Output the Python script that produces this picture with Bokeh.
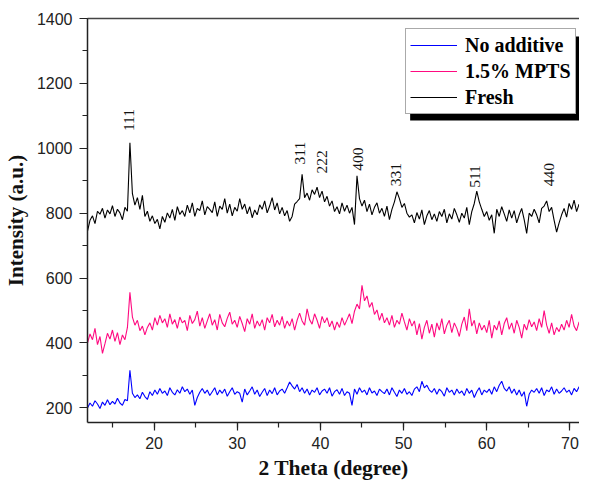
import numpy as np
from bokeh.plotting import figure
from bokeh.models import (Range1d, SingleIntervalTicker, FixedTicker, LinearAxis,
                          Legend, LegendItem, BoxAnnotation, ColumnDataSource)
from bokeh.core.properties import value
from bokeh.embed import file_html
from bokeh.resources import INLINE

# 2-theta sampling grid (degrees), 0.3 deg step from 12.0
two_theta = np.round(12.0 + 0.3 * np.arange(199), 2)

fresh = [
    745, 778, 792, 768, 806, 797, 815, 785, 810, 798,
    823, 790, 812, 801, 780, 818, 806, 1017, 860, 825,
    848, 812, 855, 790, 806, 775, 792, 768, 781, 752,
    790, 772, 801, 785, 812, 778, 820, 796, 808, 790,
    825, 801, 832, 790, 815, 808, 838, 795, 820, 812,
    802, 835, 790, 822, 812, 845, 800, 828, 792, 818,
    806, 845, 812, 828, 798, 820, 786, 810, 795, 826,
    812, 838, 801, 822, 848, 810, 832, 798, 818, 792,
    808, 775, 790, 828, 836, 845, 920, 848, 862, 840,
    872, 858, 880, 848, 868, 835, 852, 822, 838, 805,
    820, 798, 832, 806, 825, 800, 818, 765, 915, 845,
    822, 840, 805, 828, 795, 818, 832, 800, 815, 790,
    822, 780, 812, 835, 866, 845, 818, 830, 800, 788,
    795, 770, 802, 782, 810, 765, 792, 808, 780, 798,
    775, 805, 790, 812, 770, 798, 782, 815, 795, 772,
    800, 785, 818, 765, 805, 830, 868, 835, 812, 790,
    805, 778, 795, 738, 812, 790, 820, 798, 775, 810,
    785, 808, 770, 795, 815, 780, 738, 800, 790, 812,
    795, 770, 815, 822, 838, 805, 818, 778, 742, 770,
    795, 815, 788, 830, 812, 840, 805, 828, 815,
]

mpts = [
    400, 428, 410, 445, 395, 420, 368, 398, 430, 412,
    440, 405, 432, 395, 425, 410, 448, 556, 480, 455,
    470, 438, 452, 425, 448, 462, 440, 478, 455, 485,
    462, 475, 448, 490, 458, 472, 445, 480, 462, 470,
    438, 485, 460, 472, 498, 452, 478, 445, 468, 490,
    455, 472, 440, 488, 462, 450, 476, 495, 458, 470,
    448, 482, 460, 435, 475, 458, 490, 445, 468, 452,
    472, 440, 478, 462, 488, 450, 470, 455, 482, 445,
    468, 452, 475, 440, 470, 492, 468, 455, 505, 472,
    458, 490, 470, 445, 482, 462, 478, 450, 468, 440,
    465, 448, 478, 455, 472, 490, 460, 498, 520, 505,
    578, 530, 545, 510, 525, 488, 502, 470, 492, 462,
    478, 455, 485, 448, 470, 458, 492, 465, 440, 475,
    452, 468, 425, 460, 412, 448, 470, 430, 458, 418,
    462, 440, 475, 428, 455, 470, 432, 462, 445, 420,
    458, 480, 438, 505, 452, 470, 428, 462, 440, 455,
    432, 470, 415, 455, 440, 468, 425, 460, 478, 442,
    462, 430, 470, 448, 415, 458, 440, 472, 450, 465,
    438, 475, 448, 500, 455, 430, 462, 425, 448, 435,
    458, 440, 470, 448, 488, 452, 438, 465, 445,
]

no_additive = [
    200, 215, 205, 222, 212, 198, 218, 208, 225, 210,
    220, 212, 230, 215, 208, 226, 222, 316, 245, 232,
    240, 228, 248, 235, 226, 250, 238, 255, 242, 260,
    245, 252, 238, 262, 248, 240, 256, 245, 265, 250,
    258, 242, 255, 208, 232, 248, 260, 245, 255, 238,
    250, 262, 240, 255, 245, 258, 236, 250, 262, 242,
    250, 245, 218, 258, 240, 252, 265, 242, 255, 235,
    248, 260, 238, 255, 244, 262, 240, 252, 258, 245,
    262, 280, 268, 258, 272, 250, 262, 245, 258, 240,
    255, 248, 262, 240, 252, 258, 245, 262, 236, 250,
    256, 242, 260, 238, 250, 245, 208, 258, 242, 262,
    248, 255, 240, 262, 246, 252, 238, 258, 250, 244,
    258, 240, 262, 248, 235, 255, 245, 260, 242, 250,
    238, 258, 265, 250, 282, 262, 270, 255, 248, 260,
    242, 258, 250, 236, 262, 248, 255, 240, 258, 245,
    252, 238, 260, 245, 255, 232, 250, 262, 240, 255,
    248, 258, 242, 265, 250, 270, 282, 260, 252, 265,
    245, 258, 240, 255, 236, 250, 205, 242, 255, 248,
    260, 245, 262, 238, 255, 250, 265, 242, 258, 245,
    252, 262, 248, 255, 240, 260, 250, 265, 255,
]

series_names = ["No additive", "1.5% MPTS", "Fresh"]
series_colors = ["#0000FF", "#FF0A80", "#000000"]

peak_labels = ["111", "311", "222", "400", "331", "511", "440"]
peak_label_x = [17.0, 37.5, 40.2, 44.5, 49.05, 58.6, 67.5]
peak_label_y = [1087, 985, 958, 967, 919, 913, 919]

p = figure(width=579, height=483, output_backend="svg", toolbar_location=None,
           x_range=Range1d(12, 71.15), y_range=Range1d(155, 1400),
           min_border_left=85, min_border_right=0, min_border_top=18,
           min_border_bottom=61)
p.xgrid.visible = False
p.ygrid.visible = False
p.outline_line_color = None
p.background_fill_color = "white"
p.border_fill_color = "white"

renderers = []
for name, ys, col in zip(series_names, [no_additive, mpts, fresh], series_colors):
    src = ColumnDataSource(dict(x=two_theta[:len(ys)], y=ys))
    r = p.line("x", "y", source=src, line_color=col, line_width=1.1)
    renderers.append(r)

lab_src = ColumnDataSource(dict(x=peak_label_x, y=peak_label_y, t=peak_labels))
p.text("x", "y", text="t", source=lab_src, angle=np.pi / 2,
       text_align="center", text_baseline="middle",
       text_font=value("Liberation Serif"), text_font_size="15.5px",
       text_color="#111111")

# axes
for ax in (p.xaxis[0], p.yaxis[0]):
    ax.axis_line_color = "#222222"
    ax.axis_line_width = 1.5
    ax.major_tick_line_color = "#222222"
    ax.minor_tick_line_color = "#222222"
    ax.major_tick_line_width = 1.2
    ax.minor_tick_line_width = 1.2
    ax.major_tick_in = 0
    ax.major_tick_out = 8
    ax.minor_tick_in = 0
    ax.minor_tick_out = 5
    ax.major_label_text_font = "Liberation Sans"
    ax.major_label_text_font_size = "16px"
    ax.major_label_text_color = "#222222"
    ax.axis_label_text_font = "Liberation Serif"
    ax.axis_label_text_font_style = "bold"
    ax.axis_label_text_color = "#111111"

p.xaxis.ticker = SingleIntervalTicker(interval=10, num_minor_ticks=2)
p.yaxis.ticker = SingleIntervalTicker(interval=200, num_minor_ticks=2)
p.xaxis.axis_label = "2 Theta (degree)"
p.yaxis.axis_label = "Intensity (a.u.)"
p.xaxis.axis_label_text_font_size = "21.5px"
p.yaxis.axis_label_text_font_size = "21px"
p.xaxis.major_label_standoff = 6
p.yaxis.major_label_standoff = 7
p.xaxis.axis_label_standoff = 4
p.yaxis.axis_label_standoff = 6

top_axis = LinearAxis(axis_line_color="#444444", axis_line_width=1.5,
                      major_tick_line_color=None, minor_tick_line_color=None,
                      ticker=FixedTicker(ticks=[]))
p.add_layout(top_axis, "above")

# legend shadow
shadow = BoxAnnotation(left=50.79, right=71.15, top=1344.5, bottom=1085.7,
                       fill_color="black", fill_alpha=1.0, line_color=None)
p.add_layout(shadow)

legend = Legend(items=[LegendItem(label=n, renderers=[r]) for n, r in zip(series_names, renderers)],
                location=(318, 308),
                label_text_font="Liberation Serif", label_text_font_style="bold",
                label_text_font_size="20px", label_text_color="#000000",
                glyph_width=47, glyph_height=24, label_height=24,
                label_standoff=8, padding=4, spacing=2, margin=0,
                border_line_color="#555555", border_line_width=1,
                background_fill_color="white", background_fill_alpha=1.0)
p.add_layout(legend)

open("out.html", "w").write(file_html(p, INLINE))
